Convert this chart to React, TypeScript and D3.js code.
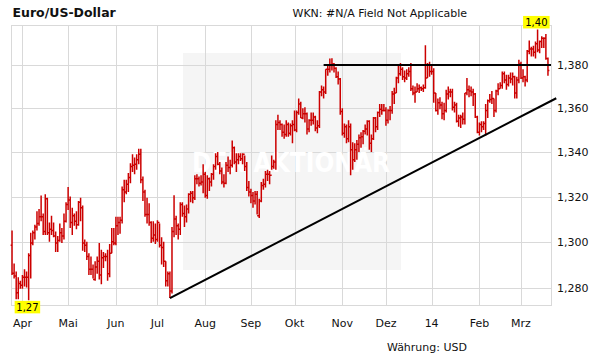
import React from "react";
import * as d3 from "d3";

// ---- categories / axis settings ----
const startDate = new Date(2013, 2, 25);
const endDate = new Date(2014, 2, 21); // exclusive
const monthLabels = ["Apr", "Mai", "Jun", "Jul", "Aug", "Sep", "Okt", "Nov", "Dez", "14", "Feb", "Mrz"];
const yTicks = [1.28, 1.3, 1.32, 1.34, 1.36, 1.38];
const yDomain = [1.2725, 1.3988];

// ---- daily EUR/USD values (one entry per trading day) ----
const firstOpen = 1.2985;
const highs = [
  1.3050, 1.2905, 1.2870, 1.2845, 1.2830,
  1.2855, 1.2880, 1.2870, 1.2950, 1.3040, 1.3050, 1.3075, 1.3135, 1.3145, 1.3205, 1.3125, 1.3210, 1.3195, 1.3085, 1.3115, 1.3085, 1.3045, 1.3025, 1.3080, 1.3060, 1.3125, 1.3175,
  1.3243, 1.3200, 1.3150, 1.3125, 1.3135, 1.3180, 1.3195, 1.3160, 1.3010, 1.3000, 1.2950, 1.2935, 1.2900, 1.2915, 1.2935, 1.2995, 1.2965, 1.2955, 1.2950, 1.2965, 1.2990, 1.3060, 1.3060,
  1.3110, 1.3110, 1.3110, 1.3245, 1.3275, 1.3275, 1.3305, 1.3350, 1.3390, 1.3375, 1.3390, 1.3415, 1.3415, 1.3290, 1.3230, 1.3195, 1.3170, 1.3090, 1.3090, 1.3080,
  1.3095, 1.3080, 1.3020, 1.3000, 1.2915, 1.2870, 1.2870, 1.3065, 1.3206, 1.3115, 1.3080, 1.3175, 1.3175, 1.3160, 1.3165, 1.3215, 1.3225, 1.3225, 1.3295, 1.3300, 1.3290, 1.3295, 1.3345,
  1.3310, 1.3295, 1.3285, 1.3305, 1.3345, 1.3395, 1.3400, 1.3355, 1.3330, 1.3300, 1.3355, 1.3380, 1.3365, 1.3452, 1.3425, 1.3395, 1.3395, 1.3395, 1.3395, 1.3385, 1.3355, 1.3270,
  1.3235, 1.3220, 1.3225, 1.3225, 1.3190, 1.3265, 1.3280, 1.3315, 1.3320, 1.3315, 1.3385, 1.3365, 1.3545, 1.3570, 1.3545, 1.3530, 1.3525, 1.3545, 1.3535, 1.3530, 1.3545,
  1.3590, 1.3590, 1.3645, 1.3630, 1.3600, 1.3605, 1.3580, 1.3550, 1.3580, 1.3580, 1.3565, 1.3545, 1.3680, 1.3705, 1.3700, 1.3780, 1.3800, 1.3830, 1.3832, 1.3810, 1.3790, 1.3770, 1.3740,
  1.3600, 1.3530, 1.3525, 1.3545, 1.3530, 1.3445, 1.3440, 1.3455, 1.3480, 1.3490, 1.3500, 1.3525, 1.3545, 1.3545, 1.3480, 1.3560, 1.3560, 1.3585, 1.3620, 1.3620, 1.3620,
  1.3605, 1.3595, 1.3610, 1.3680, 1.3695, 1.3745, 1.3800, 1.3810, 1.3790, 1.3775, 1.3780, 1.3790, 1.3810, 1.3705, 1.3700, 1.3715, 1.3710, 1.3700, 1.3710, 1.3893, 1.3810, 1.3815,
  1.3795, 1.3785, 1.3670, 1.3645, 1.3650, 1.3630, 1.3625, 1.3685, 1.3700, 1.3690, 1.3690, 1.3630, 1.3625, 1.3570, 1.3570, 1.3580, 1.3670, 1.3740, 1.3705, 1.3700, 1.3690, 1.3670, 1.3565,
  1.3535, 1.3540, 1.3540, 1.3620, 1.3640, 1.3665, 1.3680, 1.3645, 1.3685, 1.3715, 1.3720, 1.3770, 1.3770, 1.3755, 1.3755, 1.3765, 1.3765, 1.3750, 1.3745, 1.3825,
  1.3815, 1.3780, 1.3750, 1.3870, 1.3915, 1.3885, 1.3890, 1.3910, 1.3967, 1.3915, 1.3935, 1.3930, 1.3945, 1.3835,
];
const lows = [
  1.2855, 1.2840, 1.2750, 1.2750, 1.2795,
  1.2795, 1.2805, 1.2800, 1.2745, 1.2840, 1.2985, 1.3010, 1.3050, 1.3070, 1.3090, 1.3030, 1.3030, 1.3030, 1.3000, 1.3030, 1.3020, 1.2955, 1.2955, 1.3000, 1.2995, 1.3010, 1.3085,
  1.3140, 1.3060, 1.3030, 1.3070, 1.3055, 1.3070, 1.3090, 1.2960, 1.2955, 1.2920, 1.2855, 1.2855, 1.2840, 1.2830, 1.2860, 1.2835, 1.2815, 1.2885, 1.2915, 1.2830, 1.2845, 1.2950, 1.2985,
  1.2985, 1.3030, 1.3035, 1.3080, 1.3175, 1.3210, 1.3220, 1.3260, 1.3310, 1.3300, 1.3320, 1.3345, 1.3260, 1.3180, 1.3110, 1.3080, 1.3070, 1.2995, 1.3000, 1.2990,
  1.3000, 1.2975, 1.2900, 1.2890, 1.2805, 1.2805, 1.2755, 1.2775, 1.3020, 1.3030, 1.3010, 1.3030, 1.3110, 1.3065, 1.3085, 1.3125, 1.3175, 1.3170, 1.3185, 1.3255, 1.3245, 1.3250, 1.3215,
  1.3195, 1.3190, 1.3225, 1.3245, 1.3275, 1.3320, 1.3340, 1.3300, 1.3255, 1.3240, 1.3255, 1.3310, 1.3300, 1.3330, 1.3345, 1.3310, 1.3345, 1.3360, 1.3345, 1.3315, 1.3225, 1.3200,
  1.3170, 1.3150, 1.3165, 1.3120, 1.3105, 1.3175, 1.3230, 1.3240, 1.3270, 1.3255, 1.3320, 1.3325, 1.3320, 1.3500, 1.3500, 1.3470, 1.3460, 1.3470, 1.3470, 1.3475, 1.3440,
  1.3495, 1.3490, 1.3570, 1.3555, 1.3550, 1.3535, 1.3480, 1.3490, 1.3520, 1.3525, 1.3495, 1.3485, 1.3510, 1.3655, 1.3645, 1.3665, 1.3750, 1.3765, 1.3775, 1.3765, 1.3740, 1.3710, 1.3570,
  1.3475, 1.3465, 1.3440, 1.3445, 1.3295, 1.3320, 1.3355, 1.3365, 1.3400, 1.3420, 1.3435, 1.3480, 1.3475, 1.3410, 1.3400, 1.3455, 1.3490, 1.3500, 1.3560, 1.3570, 1.3585,
  1.3520, 1.3530, 1.3545, 1.3575, 1.3620, 1.3670, 1.3715, 1.3750, 1.3730, 1.3720, 1.3730, 1.3745, 1.3680, 1.3660, 1.3625, 1.3675, 1.3670, 1.3680, 1.3675, 1.3690, 1.3740, 1.3745,
  1.3755, 1.3625, 1.3585, 1.3570, 1.3595, 1.3550, 1.3545, 1.3580, 1.3640, 1.3650, 1.3590, 1.3580, 1.3535, 1.3515, 1.3510, 1.3525, 1.3525, 1.3660, 1.3650, 1.3655, 1.3610, 1.3555, 1.3485,
  1.3475, 1.3490, 1.3500, 1.3475, 1.3555, 1.3625, 1.3620, 1.3560, 1.3580, 1.3660, 1.3690, 1.3690, 1.3715, 1.3685, 1.3700, 1.3715, 1.3705, 1.3645, 1.3645, 1.3715,
  1.3735, 1.3720, 1.3700, 1.3720, 1.3850, 1.3840, 1.3840, 1.3830, 1.3860, 1.3855, 1.3880, 1.3880, 1.3825, 1.3750,
];
const closes = [
  1.2862, 1.2850, 1.2778, 1.2818, 1.2810,
  1.2845, 1.2845, 1.2845, 1.2940, 1.2995, 1.3040, 1.3065, 1.3080, 1.3110, 1.3110, 1.3045, 1.3190, 1.3040, 1.3055, 1.3050, 1.3025, 1.2995, 1.3005, 1.3040, 1.3025, 1.3090, 1.3165,
  1.3185, 1.3085, 1.3115, 1.3090, 1.3075, 1.3175, 1.3150, 1.2995, 1.2985, 1.2935, 1.2880, 1.2880, 1.2835, 1.2890, 1.2915, 1.2855, 1.2930, 1.2935, 1.2935, 1.2860, 1.2950, 1.3000, 1.2995,
  1.3070, 1.3085, 1.3095, 1.3230, 1.3220, 1.3255, 1.3285, 1.3335, 1.3340, 1.3345, 1.3365, 1.3390, 1.3275, 1.3220, 1.3120, 1.3120, 1.3085, 1.3015, 1.3030, 1.3010,
  1.3085, 1.2985, 1.2975, 1.2915, 1.2830, 1.2860, 1.2785, 1.3045, 1.3100, 1.3070, 1.3055, 1.3165, 1.3125, 1.3110, 1.3145, 1.3210, 1.3215, 1.3195, 1.3280, 1.3280, 1.3260, 1.3265, 1.3300,
  1.3205, 1.3280, 1.3265, 1.3300, 1.3335, 1.3380, 1.3345, 1.3315, 1.3265, 1.3260, 1.3340, 1.3330, 1.3340, 1.3420, 1.3355, 1.3365, 1.3380, 1.3370, 1.3390, 1.3335, 1.3240, 1.3220,
  1.3205, 1.3180, 1.3210, 1.3115, 1.3180, 1.3250, 1.3255, 1.3300, 1.3300, 1.3295, 1.3335, 1.3355, 1.3525, 1.3535, 1.3525, 1.3490, 1.3480, 1.3525, 1.3485, 1.3520, 1.3525,
  1.3500, 1.3580, 1.3620, 1.3555, 1.3575, 1.3575, 1.3505, 1.3545, 1.3545, 1.3560, 1.3510, 1.3520, 1.3675, 1.3685, 1.3675, 1.3780, 1.3780, 1.3800, 1.3805, 1.3785, 1.3745, 1.3735, 1.3585,
  1.3485, 1.3515, 1.3460, 1.3515, 1.3410, 1.3365, 1.3410, 1.3435, 1.3465, 1.3470, 1.3495, 1.3505, 1.3540, 1.3440, 1.3460, 1.3555, 1.3515, 1.3580, 1.3595, 1.3590, 1.3590,
  1.3545, 1.3590, 1.3590, 1.3665, 1.3670, 1.3740, 1.3760, 1.3780, 1.3745, 1.3740, 1.3760, 1.3770, 1.3690, 1.3670, 1.3675, 1.3690, 1.3695, 1.3690, 1.3695, 1.3740, 1.3800, 1.3770,
  1.3770, 1.3670, 1.3590, 1.3625, 1.3615, 1.3575, 1.3590, 1.3665, 1.3675, 1.3675, 1.3605, 1.3615, 1.3540, 1.3555, 1.3560, 1.3550, 1.3670, 1.3685, 1.3680, 1.3675, 1.3665, 1.3560, 1.3490,
  1.3525, 1.3515, 1.3530, 1.3590, 1.3635, 1.3640, 1.3645, 1.3590, 1.3680, 1.3690, 1.3705, 1.3760, 1.3730, 1.3710, 1.3740, 1.3735, 1.3745, 1.3670, 1.3730, 1.3805,
  1.3740, 1.3745, 1.3730, 1.3865, 1.3875, 1.3875, 1.3860, 1.3900, 1.3870, 1.3910, 1.3925, 1.3925, 1.3830, 1.3775,
];

// ---- drawn trend lines (index, value) ----
const resistanceValue = 1.38;
const resistanceFrom = 150;
const supportFrom = { i: 76, v: 1.2755 };
const supportTo = { i: 262, v: 1.3646 };

const FONT = "'DejaVu Sans', Verdana, sans-serif";

export default function App() {
  const W = 611, H = 364;
  const left = 11, right = 551, top = 25, bottom = 305;

  const dates = d3.timeDay.range(startDate, endDate).filter((d) => d.getDay() !== 0 && d.getDay() !== 6);
  const n = Math.min(dates.length, highs.length, lows.length, closes.length);

  const x = d3.scaleLinear().domain([-0.5, n - 0.5]).range([left, 549]);
  const y = d3.scaleLog().domain(yDomain).range([bottom, top]);

  const monthIdx: number[] = [];
  for (let i = 1; i < n; i++) {
    if (dates[i].getMonth() !== dates[i - 1].getMonth()) monthIdx.push(i);
  }

  let barPath = "";
  for (let i = 0; i < n; i++) {
    const xi = x(i);
    const o = i === 0 ? firstOpen : closes[i - 1];
    barPath += `M${xi},${y(highs[i])}V${y(lows[i])}`;
    barPath += `M${xi - 1.4},${y(o)}H${xi}`;
    barPath += `M${xi},${y(closes[i])}H${xi + 1.4}`;
  }

  const maxI = d3.maxIndex(highs.slice(0, n));
  const minI = d3.minIndex(lows.slice(0, n));
  const px = (v: number) => Math.round(v) + 0.5;

  return (
    <div style={{ position: "absolute", left: 0, top: 0, width: W, height: H, background: "#fff" }}>
      <svg width={W} height={H} style={{ display: "block" }}>
        <rect x={0} y={0} width={W} height={H} fill="#fff" />
        {/* watermark */}
        <rect x={183} y={53} width={218} height={217} fill="#f5f5f5" />
        {/* grid */}
        <g stroke="#d9d9d9" strokeWidth={1} shapeRendering="crispEdges">
          {yTicks.map((t) => (
            <line key={"h" + t} x1={left} x2={right} y1={px(y(t))} y2={px(y(t))} />
          ))}
          {monthIdx.map((i) => (
            <line key={"v" + i} x1={px(x(i))} x2={px(x(i))} y1={top} y2={bottom} />
          ))}
          <rect x={left + 0.5} y={top + 0.5} width={right - left} height={bottom - top} fill="none" />
        </g>
        <text x={192} y={172} fontFamily="'DejaVu Sans Condensed', 'DejaVu Sans', sans-serif" fontWeight="bold"
          fontSize={27} fill="#ffffff" textLength={198} lengthAdjust="spacingAndGlyphs">DER AKTIONÄR</text>
        {/* OHLC bars */}
        <path d={barPath} stroke="#cc0000" strokeWidth={1.5} fill="none" />
        {/* trend lines */}
        <line x1={x(resistanceFrom)} x2={right} y1={y(resistanceValue)} y2={y(resistanceValue)} stroke="#000" strokeWidth={2} />
        <line x1={x(supportFrom.i)} y1={y(supportFrom.v)} x2={x(supportTo.i)} y2={y(supportTo.v)} stroke="#000" strokeWidth={2} />
        {/* axis labels */}
        <g fontFamily={FONT} fontSize={11} fill="#111">
          {yTicks.map((t) => (
            <text key={"yl" + t} x={557} y={y(t)} dy="0.36em">
              {d3.format(".3f")(t).replace(".", ",")}
            </text>
          ))}
          {monthIdx.map((i, k) => (
            <text key={"ml" + i} x={x(i)} y={327} textAnchor="middle">
              {monthLabels[k]}
            </text>
          ))}
          <text x={292.5} y={17.3}>WKN: #N/A Field Not Applicable</text>
          <text x={467} y={351} textAnchor="end">Währung: USD</text>
        </g>
        <text x={12.5} y={17.3} fontFamily={FONT} fontSize={12.5} fontWeight="bold" fill="#111">Euro/US-Dollar</text>
        {/* max / min labels */}
        <g fontFamily={FONT} fontSize={10} fill="#000">
          <rect x={x(maxI) - 14.5} y={y(highs[maxI]) - 13.5} width={26.5} height={12.5} fill="#ffff00" />
          <text x={x(maxI) - 1.2} y={y(highs[maxI]) - 3} textAnchor="middle">
            {d3.format(".2f")(highs[maxI]).replace(".", ",")}
          </text>
          <rect x={x(minI) - 14} y={y(lows[minI]) + 0.5} width={25.5} height={12.5} fill="#ffff00" />
          <text x={x(minI) - 1.2} y={y(lows[minI]) + 10.5} textAnchor="middle">
            {d3.format(".2f")(lows[minI]).replace(".", ",")}
          </text>
        </g>
      </svg>
    </div>
  );
}
